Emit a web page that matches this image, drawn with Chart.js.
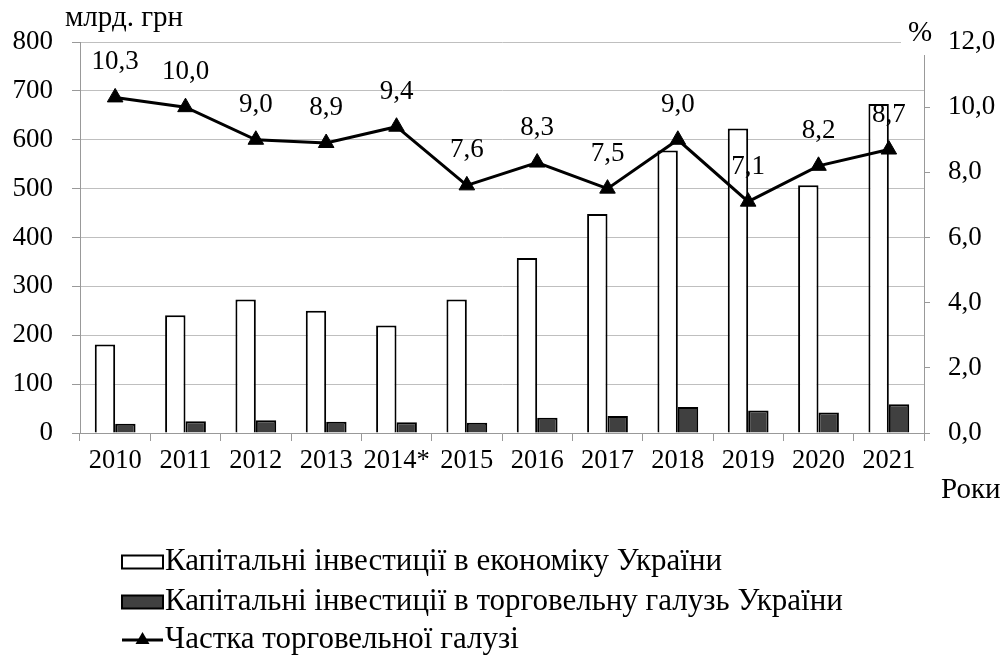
<!DOCTYPE html>
<html>
<head>
<meta charset="utf-8">
<script src="https://cdn.jsdelivr.net/npm/chart.js@4/dist/chart.umd.min.js"></script>
<style>
  body { margin: 0; background: #fff; }
  #probe { position: absolute; left: -1000px; top: 0; font-family: "Liberation Serif"; font-size: 26px; }
</style>
</head>
<body>
<canvas id="grafik" width="1005" height="657"></canvas>
<div id="probe">млрд. грн 0123456789</div>
<script>
// Дані з рисунка
let roky = ['2010', '2011', '2012', '2013', '2014*', '2015', '2016', '2017', '2018', '2019', '2020', '2021'];
let investEkonomika = [181, 241, 273, 250, 220, 273, 358, 448, 578, 623, 507, 673];
let investTorgivlia = [19, 24, 26, 23, 22, 21, 31, 35, 53, 46, 42, 59];
let chastka = [10.3, 10.0, 9.0, 8.9, 9.4, 7.6, 8.3, 7.5, 9.0, 7.1, 8.2, 8.7];
let livyTicks = [0, 100, 200, 300, 400, 500, 600, 700, 800];
let pravyTicks = [0, 2, 4, 6, 8, 10, 12];

const shryft = '"Liberation Serif"';
const sira = '#bfbfbf';
const osi = '#999999';

function koma(v) {
    return v.toFixed(1).replace('.', ',');
}

// Підписи значень над точками лінії
const pidpysy = {
    id: 'pidpysy',
    afterDatasetsDraw(chart) {
        const ctx = chart.ctx;
        const meta = chart.getDatasetMeta(2);
        ctx.save();
        ctx.font = '27px ' + shryft;
        ctx.fillStyle = '#000';
        ctx.textAlign = 'center';
        ctx.textBaseline = 'middle';
        meta.data.forEach(function(p, i) {
            ctx.fillText(koma(chastka[i]), p.x, p.y - 35);
        });
        ctx.restore();
    }
};

// Легенда, назви осей
const dodatky = {
    id: 'dodatky',
    afterDraw(chart) {
        const ctx = chart.ctx;
        ctx.save();
        // верх правої осі і верхня лінія сітки обрізані, як у зразку
        ctx.fillStyle = '#fff';
        ctx.fillRect(901, 38, 31, 17);

        ctx.font = '29px ' + shryft;
        ctx.fillStyle = '#000';
        ctx.textBaseline = 'middle';
        ctx.textAlign = 'left';
        ctx.fillText('млрд. грн', 65, 18);
        ctx.fillText('Роки', 941, 490);
        ctx.textAlign = 'center';
        ctx.fillText('%', 920, 33);

        ctx.font = '31px ' + shryft;
        const ds = chart.data.datasets;
        const rjadky = [562, 602, 640];
        const x0 = 122, w = 41, h = 13;
        ds.forEach(function(d, i) {
            const y = rjadky[i];
            if (d.type === 'line') {
                ctx.strokeStyle = '#000';
                ctx.lineWidth = 3;
                ctx.beginPath();
                ctx.moveTo(x0, y);
                ctx.lineTo(x0 + w, y);
                ctx.stroke();
                ctx.fillStyle = '#000';
                ctx.beginPath();
                ctx.moveTo(x0 + w / 2, y - 8);
                ctx.lineTo(x0 + w / 2 + 7, y + 4);
                ctx.lineTo(x0 + w / 2 - 7, y + 4);
                ctx.closePath();
                ctx.fill();
            } else {
                ctx.fillStyle = d.backgroundColor;
                ctx.fillRect(x0, y - h / 2, w, h);
                ctx.strokeStyle = '#000';
                ctx.lineWidth = 2;
                ctx.strokeRect(x0, y - h / 2, w, h);
            }
            ctx.fillStyle = '#000';
            ctx.textAlign = 'left';
            ctx.fillText(d.label, x0 + w + 2, y);
        });
        ctx.restore();
    }
};

function stvorytyGrafik() {
    new Chart(document.getElementById('grafik').getContext('2d'), {
        type: 'bar',
        data: {
            labels: roky,
            datasets: [
                {
                    label: 'Капітальні інвестиції в економіку України',
                    data: investEkonomika,
                    backgroundColor: '#ffffff',
                    borderColor: '#000000',
                    borderWidth: 2,
                    yAxisID: 'y',
                    order: 1
                },
                {
                    label: 'Капітальні інвестиції в торговельну галузь України',
                    data: investTorgivlia,
                    backgroundColor: '#404040',
                    borderColor: '#000000',
                    borderWidth: 2,
                    yAxisID: 'y',
                    order: 1
                },
                {
                    type: 'line',
                    label: 'Частка торговельної галузі',
                    data: chastka,
                    borderColor: '#000000',
                    backgroundColor: '#000000',
                    borderWidth: 3,
                    pointStyle: 'triangle',
                    pointRadius: 9,
                    pointBorderWidth: 1,
                    tension: 0,
                    yAxisID: 'y1',
                    order: 0
                }
            ]
        },
        options: {
            responsive: false,
            animation: false,
            layout: { padding: { top: 42 } },
            datasets: {
                bar: { categoryPercentage: 0.58, barPercentage: 1 }
            },
            plugins: {
                legend: { display: false },
                tooltip: { enabled: false }
            },
            scales: {
                x: {
                    afterFit: function(s) { s.height = 224; },
                    grid: { drawOnChartArea: false, tickLength: 8, color: osi },
                    border: { color: osi },
                    ticks: { color: '#000', font: { family: shryft, size: 26.5 }, padding: 4, maxRotation: 0 }
                },
                y: {
                    position: 'left',
                    min: 0,
                    max: 800,
                    afterFit: function(s) { s.width = 80; },
                    afterBuildTicks: function(s) { s.ticks = livyTicks.map(v => ({ value: v })); },
                    grid: { color: sira, tickLength: 8, tickColor: osi },
                    border: { color: osi },
                    ticks: { color: '#000', font: { family: shryft, size: 27 }, padding: 19 }
                },
                y1: {
                    position: 'right',
                    min: 0,
                    max: 12,
                    afterFit: function(s) { s.width = 81; },
                    afterBuildTicks: function(s) { s.ticks = pravyTicks.map(v => ({ value: v })); },
                    grid: { drawOnChartArea: false, tickLength: 6, color: osi },
                    border: { color: osi },
                    ticks: {
                        color: '#000',
                        font: { family: shryft, size: 27 },
                        padding: 18,
                        callback: function(v) { return koma(v); }
                    }
                }
            }
        },
        plugins: [pidpysy, dodatky]
    });
}

document.fonts.load('26px "Liberation Serif"', 'млрд 0123').then(stvorytyGrafik, stvorytyGrafik);
</script>
</body>
</html>
